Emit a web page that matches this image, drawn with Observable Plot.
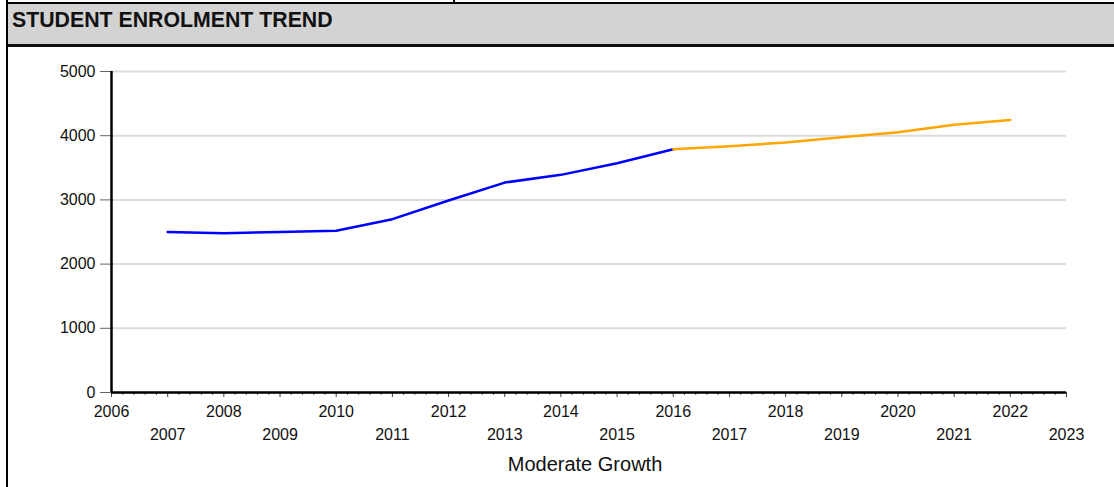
<!DOCTYPE html>
<html><head><meta charset="utf-8">
<script src="https://cdn.jsdelivr.net/npm/d3@7"></script>
<script src="https://cdn.jsdelivr.net/npm/@observablehq/plot@0.6"></script>
<style>
html,body{margin:0;padding:0;background:#fff;width:1114px;height:487px;overflow:hidden;font-family:"Liberation Sans",Arial,sans-serif;}
#border{position:absolute;left:6px;top:0;width:2px;height:487px;background:#000;z-index:3;}
#title{position:absolute;left:6px;top:2px;width:1108px;height:45px;box-sizing:border-box;background:#d3d3d3;border-top:2px solid #000;border-bottom:3px solid #111;z-index:2;}
#title span{position:absolute;left:6px;top:6px;font-size:21.3px;line-height:21px;font-weight:bold;color:#111;white-space:nowrap;}
#notch{position:absolute;left:453px;top:0;width:2px;height:3px;background:#000;z-index:3;}
#chart{position:absolute;left:0;top:46px;z-index:1;}
</style>
</head><body>
<div id="border"></div>
<div id="notch"></div>
<div id="title"><span>STUDENT ENROLMENT TREND</span></div>
<div id="chart"></div>
<script>
// Data
const actualYears = [2007, 2008, 2009, 2010, 2011, 2012, 2013, 2014, 2015, 2016];
const actualValues = [2500, 2480, 2500, 2520, 2700, 2990, 3270, 3390, 3570, 3790];
const forecastYears = [2016, 2017, 2018, 2019, 2020, 2021, 2022];
const forecastValues = [3790, 3835, 3895, 3975, 4055, 4170, 4245];
const yTicks = [0, 1000, 2000, 3000, 4000, 5000];
const evenYears = [2006, 2008, 2010, 2012, 2014, 2016, 2018, 2020, 2022];
const oddYears = [2007, 2009, 2011, 2013, 2015, 2017, 2019, 2021, 2023];
const xLabel = "Moderate Growth";

const allYears = evenYears.concat(oddYears).sort((a, b) => a - b);
const minorTicks = [];
for (let i = 0; i < allYears.length - 1; i++) {
  for (let k = 1; k < 5; k++) minorTicks.push(allYears[i] + k / 5);
}
const actual = actualYears.map((y, i) => ({year: y, value: actualValues[i]}));
const forecast = forecastYears.map((y, i) => ({year: y, value: forecastValues[i]}));

const chart = Plot.plot({
  width: 1114,
  height: 441,
  marginLeft: 111,
  marginRight: 48,
  marginTop: 25,
  marginBottom: 95,
  x: {domain: [2006, 2023], label: null},
  y: {domain: [0, 5000], label: null},
  style: {fontFamily: "'Liberation Sans', Arial, sans-serif", fontSize: "16px", background: "transparent", color: "#111", overflow: "visible"},
  marks: [
    Plot.gridY(yTicks, {stroke: "#dcdcdc", strokeOpacity: 1, strokeWidth: 2}),
    Plot.axisY(yTicks, {tickSize: 11, tickPadding: 5, stroke: "#666", fontSize: 16, tickFormat: d => String(d), label: null}),
    Plot.axisX(minorTicks, {tickSize: 3, tickPadding: 0, stroke: "#666", tickFormat: () => "", label: null}),
    Plot.axisX(allYears, {tickSize: 5, tickPadding: 0, stroke: "#444", tickFormat: () => "", label: null}),
    Plot.axisX(evenYears, {tickSize: 0, tickPadding: 13, fontSize: 16, tickFormat: d => String(d), label: null}),
    Plot.axisX(oddYears, {tickSize: 0, tickPadding: 36, fontSize: 16, tickFormat: d => String(d), label: null}),
    Plot.ruleY([0], {stroke: "#000", strokeWidth: 2.5}),
    Plot.ruleX([2006], {stroke: "#000", strokeWidth: 2.5}),
    Plot.line(actual, {x: "year", y: "value", stroke: "#0000ff", strokeWidth: 2.5}),
    Plot.line(forecast, {x: "year", y: "value", stroke: "#ffa500", strokeWidth: 2.5}),
    Plot.text([xLabel], {frameAnchor: "bottom", dy: 78, dx: -4, fontSize: 20, fill: "#111"})
  ]
});
document.getElementById("chart").appendChild(chart);
</script>
</body></html>
